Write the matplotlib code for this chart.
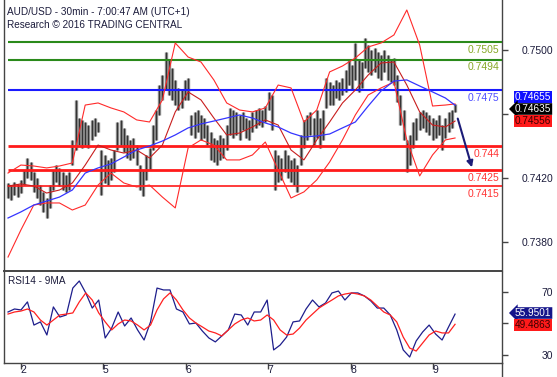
import numpy as np
import matplotlib
matplotlib.use('Agg')
import matplotlib.pyplot as plt
from matplotlib.lines import Line2D
from matplotlib import transforms

plt.rc('font', family='Liberation Sans', size=7.5)

# AUD/USD hourly bars
highs = [0.74169, 0.74156, 0.74175, 0.74163, 0.74188, 0.7425, 0.74325, 0.743, 0.74238, 0.742,
         0.74156, 0.74113, 0.74075, 0.74156, 0.7425, 0.74281, 0.74263, 0.74238, 0.74219, 0.74238,
         0.74438, 0.74688, 0.74575, 0.74563, 0.7455, 0.74531, 0.74563, 0.74575, 0.7455, 0.74375,
         0.74344, 0.74313, 0.74325, 0.74375, 0.7455, 0.74563, 0.74513, 0.74469, 0.74438, 0.7445,
         0.74406, 0.74281, 0.7425, 0.74344, 0.74388, 0.74531, 0.74625, 0.74781, 0.74844, 0.74988,
         0.74938, 0.74888, 0.74813, 0.74763, 0.7475, 0.74813, 0.74825, 0.74594, 0.74613, 0.74625,
         0.74594, 0.74575, 0.74531, 0.74488, 0.7445, 0.74438, 0.74469, 0.7445, 0.74531, 0.74638,
         0.74625, 0.74613, 0.74594, 0.74613, 0.74575, 0.74563, 0.74613, 0.74625, 0.74638, 0.74625,
         0.7465, 0.74738, 0.74719, 0.74375, 0.74344, 0.74325, 0.74375, 0.74344, 0.74313, 0.74325,
         0.74281, 0.74469, 0.74563, 0.74594, 0.74613, 0.74575, 0.74625, 0.74575, 0.74625, 0.74825,
         0.748, 0.74781, 0.74813, 0.748, 0.74825, 0.74875, 0.74938, 0.74906, 0.75044, 0.74938,
         0.74925, 0.75075, 0.75031, 0.75, 0.75013, 0.74988, 0.74969, 0.75, 0.74969, 0.74938,
         0.7495, 0.74844, 0.74719, 0.74625, 0.74438, 0.74469, 0.7455, 0.74575, 0.74613, 0.74625,
         0.74613, 0.74594, 0.74575, 0.74563, 0.74594, 0.74531, 0.74575, 0.74613, 0.74625, 0.74663]
lows = [0.74075, 0.74063, 0.74094, 0.74081, 0.74106, 0.74156, 0.742, 0.74188, 0.74113, 0.74075,
        0.74031, 0.73988, 0.7395, 0.74013, 0.74125, 0.74175, 0.7415, 0.74125, 0.74113, 0.74125,
        0.74281, 0.74375, 0.74406, 0.74388, 0.74406, 0.74388, 0.74438, 0.74463, 0.74488, 0.74094,
        0.74169, 0.74156, 0.74188, 0.74238, 0.74375, 0.74406, 0.74363, 0.74325, 0.74313, 0.74325,
        0.74281, 0.74125, 0.74088, 0.74188, 0.7425, 0.74375, 0.74438, 0.74594, 0.74688, 0.7475,
        0.74719, 0.74688, 0.74656, 0.74625, 0.74638, 0.74688, 0.74688, 0.74469, 0.7445, 0.74488,
        0.74438, 0.7445, 0.74406, 0.74313, 0.743, 0.74281, 0.74313, 0.74325, 0.74375, 0.74469,
        0.7445, 0.74469, 0.74438, 0.745, 0.7445, 0.74438, 0.74488, 0.74513, 0.74531, 0.74519,
        0.7455, 0.74625, 0.745, 0.74125, 0.74175, 0.74188, 0.74238, 0.742, 0.74175, 0.74156,
        0.74113, 0.74281, 0.74388, 0.74438, 0.74469, 0.74406, 0.7445, 0.74388, 0.74438, 0.74638,
        0.74656, 0.74656, 0.747, 0.74688, 0.74719, 0.74738, 0.74781, 0.7475, 0.74813, 0.74738,
        0.74763, 0.74888, 0.74863, 0.74844, 0.74863, 0.74825, 0.74813, 0.74863, 0.74813, 0.748,
        0.74781, 0.74675, 0.74531, 0.74438, 0.74238, 0.74281, 0.74388, 0.74438, 0.745, 0.74513,
        0.74488, 0.74469, 0.74438, 0.7445, 0.74469, 0.74375, 0.7445, 0.74488, 0.74513, 0.74613]
last_price = 0.74635

# bollinger bands and blue moving average, one value every 4 bars (+ last bar)
band_step = 4
bb_upper = [0.74231, 0.74281, 0.74275, 0.74263, 0.74275, 0.74294, 0.74656, 0.74669, 0.74638, 0.74613,
            0.74563, 0.7455, 0.74688, 0.75044, 0.74956, 0.74925, 0.74813, 0.74669, 0.74625, 0.74613,
            0.74638, 0.74781, 0.74763, 0.7455, 0.74625, 0.74863, 0.749, 0.7495, 0.75019, 0.75044,
            0.75094, 0.7525, 0.75031, 0.7465, 0.74656, 0.74663]
bb_mid = [0.7415, 0.74163, 0.7415, 0.74106, 0.74125, 0.74169, 0.74281, 0.74406, 0.74375, 0.74356,
          0.74375, 0.74325, 0.74406, 0.74613, 0.74738, 0.74688, 0.74575, 0.74469, 0.74481, 0.74519,
          0.74563, 0.74531, 0.74375, 0.74313, 0.74438, 0.7455, 0.74669, 0.7475, 0.74844, 0.74919,
          0.74925, 0.74781, 0.74613, 0.74531, 0.74519, 0.74556]
bb_lower = [0.73706, 0.73875, 0.74031, 0.74044, 0.74044, 0.74, 0.74031, 0.74156, 0.74231, 0.74169,
            0.74144, 0.74156, 0.74081, 0.74013, 0.74388, 0.74438, 0.74406, 0.74313, 0.74313, 0.74344,
            0.74425, 0.7425, 0.74075, 0.74113, 0.74188, 0.743, 0.74438, 0.74594, 0.74719, 0.74763,
            0.748, 0.74438, 0.74213, 0.74344, 0.74438, 0.7445]
ma_blue = [0.7395, 0.73988, 0.74031, 0.74056, 0.74081, 0.74125, 0.74231, 0.74263, 0.74288, 0.74331,
           0.74375, 0.744, 0.74431, 0.74469, 0.74513, 0.74538, 0.74556, 0.74575, 0.74594, 0.74575,
           0.74544, 0.74519, 0.74481, 0.74456, 0.74463, 0.74475, 0.74513, 0.7455, 0.7465, 0.74744,
           0.74806, 0.74813, 0.74775, 0.74738, 0.747, 0.74655]

levels_green = [0.7505, 0.7494]
level_blue = 0.7475
levels_red = [0.744, 0.7425, 0.7415]
target = 0.7425

# RSI(14) and its 9 period average, 70 samples over the same span
rsi = [57.3, 59.2, 58.6, 63.7, 49.0, 51.0, 42.7, 60.5, 54.1, 55.4,
       72.5, 77.0, 69.4, 59.8, 64.9, 40.8, 47.1, 57.3, 48.4, 53.5,
       45.9, 39.5, 51.0, 72.5, 71.3, 71.3, 59.2, 57.3, 49.7, 50.3,
       45.2, 40.8, 38.3, 42.1, 45.9, 56.0, 55.4, 49.0, 57.3, 57.3,
       64.9, 33.2, 36.3, 41.4, 51.0, 51.6, 59.2, 64.9, 60.5, 63.0,
       69.4, 70.6, 64.9, 69.4, 69.4, 67.5, 64.3, 59.8, 59.8, 55.4,
       45.9, 33.2, 28.7, 38.9, 44.6, 49.0, 43.3, 39.5, 47.8, 55.9501]
rsi_ma = [56.0, 57.3, 57.9, 59.2, 57.3, 52.2, 49.0, 52.2, 55.4, 56.0,
          56.7, 63.7, 69.4, 64.9, 56.7, 51.0, 45.9, 49.7, 52.2, 51.6,
          49.0, 45.9, 49.0, 58.6, 65.6, 69.4, 64.9, 58.6, 53.5, 50.3,
          47.8, 45.2, 44.0, 42.1, 45.9, 49.7, 52.2, 53.5, 51.6, 52.2,
          55.4, 52.2, 45.9, 42.7, 43.3, 47.1, 52.2, 56.0, 59.8, 62.4,
          64.9, 67.5, 68.7, 69.4, 68.7, 67.5, 64.9, 61.1, 57.3, 55.4,
          51.0, 41.4, 34.4, 32.5, 37.6, 42.7, 45.2, 44.0, 44.0, 49.4863]

day_pos = [4.0, 29.5, 55.3, 80.8, 106.6, 132.1]
day_lbl = ['2', '5', '6', '7', '8', '9']

W, H = 557, 377
fig = plt.figure(figsize=(W / 100, H / 100), dpi=100)
ax1 = fig.add_axes([4 / W, 1 - 271 / H, 498 / W, 271 / H])
ax2 = fig.add_axes([4 / W, 1 - 363 / H, 498 / W, 91 / H])

n = len(highs)
xb = np.arange(n)
xn = np.r_[np.arange(0, n, band_step), n - 1]
xr = np.linspace(0, n - 1, len(rsi))
xmin, xmax = -1.25, 153.6

# ---- price panel
ax1.vlines(xb, lows, highs, color='#858585', lw=2.4, zorder=2)
ax1.vlines(xb, lows, highs, color='#111111', lw=0.5, zorder=2)

for lv in levels_green:
    ax1.hlines(lv, 0, xmax, color='#2a8a1a', lw=1.5, zorder=3)
    ax1.annotate('%g' % lv, (xmax, lv), xytext=(-2, -2), textcoords='offset points',
                 ha='right', va='top', color='#86a826', fontsize=7.5)
ax1.hlines(level_blue, 0, xmax, color='#1a1aff', lw=1.5, zorder=3)
ax1.annotate('%g' % level_blue, (xmax, level_blue), xytext=(-2, -2), textcoords='offset points',
             ha='right', va='top', color='#4d4dff', fontsize=7.5)
for lv, w in zip(levels_red, [2.0, 2.0, 1.2]):
    ax1.hlines(lv, 0, xmax, color='#ff1a1a', lw=w, zorder=3)
    ax1.annotate('%g' % lv, (xmax, lv), xytext=(-2, -2), textcoords='offset points',
                 ha='right', va='top', color='#ff3333', fontsize=7.5)

ax1.plot(xn, bb_upper, color='#ff2a2a', lw=0.8, zorder=4)
ax1.plot(xn, bb_lower, color='#ff2a2a', lw=0.8, zorder=4)
ax1.plot(xn, bb_mid, color='#c81e1e', lw=0.8, zorder=4)
ax1.plot(xn, ma_blue, color='#3535ff', lw=0.9, zorder=4)

ax1.annotate('', xy=(144.5, target), xytext=(139.6, 0.74588),
             arrowprops=dict(arrowstyle='-|>', color='#1c1c78', lw=1.5, mutation_scale=9), zorder=5)

price_ticks = [0.738, 0.742, 0.746, 0.75]
ax1.set_xlim(xmin, xmax)
ax1.set_ylim(0.736188, 0.753125)
ax1.set_xticks([])
ax1.yaxis.tick_right()
ax1.set_yticks(price_ticks)
# the 0.7460 label sits under the value tags
ax1.set_yticklabels(['' if v == 0.746 else '%.4f' % v for v in price_ticks])

# ---- RSI panel
ax2.plot(xr, rsi, color='#1e1e8c', lw=0.9)
ax2.plot(xr, rsi_ma, color='#ff2020', lw=0.9)
ax2.set_xlim(xmin, xmax)
ax2.set_ylim(24.9, 82.7)
ax2.yaxis.tick_right()
ax2.set_yticks([30, 50, 70])
ax2.set_yticklabels(['30', '', '70'])
ax2.set_xticks(day_pos)
ax2.set_xticklabels(day_lbl)
ax2.text(0.008, 0.96, 'RSI14 - 9MA', transform=ax2.transAxes, ha='left', va='top',
         color='#1c1c3c', fontsize=7.2)

shift = transforms.ScaledTranslation(3 / 72, 0, fig.dpi_scale_trans)
for lab in ax2.get_xticklabels():
    lab.set_ha('left')
    lab.set_transform(lab.get_transform() + shift)

for ax in (ax1, ax2):
    ax.spines['top'].set_visible(False)
    for s in ('left', 'right', 'bottom'):
        ax.spines[s].set_color('#444444')
        ax.spines[s].set_linewidth(1.0)
    ax.tick_params(axis='y', direction='out', length=4, width=1, color='#444444',
                   pad=33, labelcolor='#1c1c3c', labelsize=7.5)
    for lab in ax.get_yticklabels():
        lab.set_ha('right')
ax1.spines['bottom'].set_linewidth(1.4)
ax2.tick_params(axis='x', direction='out', length=4, width=1, color='#444444',
                pad=-2.5, labelcolor='#1c1c3c', labelsize=7.5)
fig.add_artist(Line2D([502 / W, 502 / W], [0, 1 - 363 / H], color='#444444', lw=1.0))

# ---- header
fig.text(7 / W, 1 - 12 / H, 'AUD/USD - 30min - 7:00:47 AM (UTC+1)', va='center',
         color='#1c1c3c', fontsize=7.2)
fig.text(7 / W, 1 - 25 / H, 'Research \u00a9 2016 TRADING CENTRAL', va='center',
         color='#1c1c3c', fontsize=7.2)

# ---- last value tags
def tag(y_px, txt, fc, tc, arrow=False):
    style = 'larrow,pad=0.08' if arrow else 'square,pad=0.08'
    fig.text(515 / W, 1 - y_px / H, txt, ha='left', va='center', color=tc, fontsize=7.2,
             bbox=dict(boxstyle=style, fc=fc, ec='none'), zorder=10)

tag(97, '%.5f' % ma_blue[-1], '#1010ff', 'white')
tag(109, '%.5f' % last_price, '#000000', 'white', arrow=True)
tag(121, '%.5f' % bb_mid[-1], '#ff1a1a', '#3a0000')
tag(313, '%.4f' % rsi[-1], '#14148a', 'white', arrow=True)
tag(325, '%.4f' % rsi_ma[-1], '#ff1a1a', '#3a0000')

fig.savefig('out.png', dpi=100)
